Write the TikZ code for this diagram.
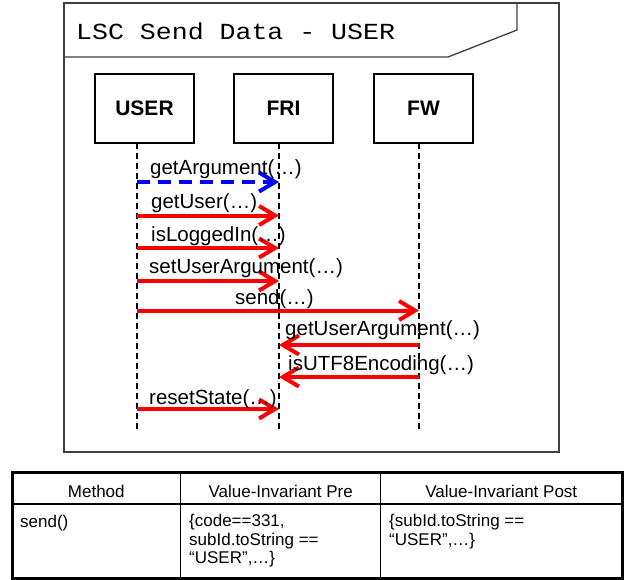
\documentclass[tikz,border=0pt]{standalone}
\usepackage{fontspec}
\setmainfont{Liberation Sans}
\newfontfamily\titlefont{Liberation Mono}
\usetikzlibrary{arrows.meta}
\begin{document}
\begin{tikzpicture}[x=1pt,y=-1pt,
  frameline/.style={draw=black!75,line width=1.3pt},
  lbox/.style={draw=black,line width=1.1pt,minimum width=99pt,minimum height=69pt,inner sep=0pt,
     font=\fontsize{21}{24}\selectfont\bfseries},
  lifeline/.style={draw=black,line width=2pt,dash pattern=on 6pt off 4pt},
  msgtxt/.style={anchor=base west,inner sep=0pt,font=\fontsize{20.5}{24}\selectfont},
  msg/.style={draw=red,line width=4pt,-{Straight Barb[length=16pt,width=19pt]}},
  msgb/.style={draw=blue,line width=4pt,dash pattern=on 13pt off 8pt,-{Straight Barb[length=16pt,width=19pt]}},
  tabtxt/.style={inner sep=0pt,font=\fontsize{17}{18.5}\selectfont},
]
\useasboundingbox (0,0) rectangle (626,579);
% frame
\draw[frameline] (64,3) rectangle (559,452);
\draw[frameline] (64,57) -- (448,57) -- (517,30) -- (517,3);
\node[anchor=base west,inner sep=0pt] (title) at (76,39.5)
  {\titlefont\fontsize{23}{26}\selectfont\scalebox{1.155}[1]{LSC Send Data - USER}};
% lifeline heads
\node[lbox] (USER) at (144.5,108.5) {USER};
\node[lbox] (FRI) at (283.5,108.5) {FRI};
\node[lbox] (FW) at (423.5,108.5) {FW};
\coordinate (uT) at (137,143); \coordinate (uB) at (137,432);
\coordinate (fT) at (279,143); \coordinate (fB) at (279,432);
\coordinate (wT) at (419,143); \coordinate (wB) at (419,432);
\draw[lifeline] (uT) -- (uB);
\draw[lifeline] (fT) -- (fB);
\draw[lifeline] (wT) -- (wB);
% messages
\draw[msgb] (uT |- 0,182) -- (fT |- 0,182);
\node[msgtxt] (l1) at (150,174) {getArgument(…)};
\draw[msg] (uT |- 0,215.5) -- (fT |- 0,215.5);
\node[msgtxt] (l2) at (151,208) {getUser(…)};
\draw[msg] (uT |- 0,248) -- (fT |- 0,248);
\node[msgtxt] (l3) at (151,241) {isLoggedIn(…)};
\draw[msg] (uT |- 0,281) -- (fT |- 0,281);
\node[msgtxt] (l4) at (149,273.5) {setUserArgument(…)};
\draw[msg] (uT |- 0,310.5) -- (wT |- 0,310.5);
\node[msgtxt] (l5) at (235,304.5) {send(…)};
\draw[msg] (wT |- 0,345) -- (fT |- 0,345);
\node[msgtxt] (l6) at (285,335) {getUserArgument(…)};
\draw[msg] (wT |- 0,377) -- (fT |- 0,377);
\node[msgtxt] (l7) at (288,370) {isUTF8Encoding(…)};
\draw[msg] (uT |- 0,409) -- (fT |- 0,409);
\node[msgtxt] (l8) at (149,404) {resetState(…)};
% table
\draw[black,line width=1.3pt] (12,504) -- (622,504);
\draw[black,line width=1.3pt] (180.7,472) -- (180.7,579);
\draw[black,line width=1.3pt] (380.7,472) -- (380.7,579);
\draw[black,line width=3pt] (12,472) rectangle (622,578);
\node[tabtxt,anchor=base] (h1) at (96.3,497) {Method};
\node[tabtxt,anchor=base] (h2) at (280.7,497) {Value-Invariant Pre};
\node[tabtxt,anchor=base] (h3) at (501.3,497) {Value-Invariant Post};
\node[tabtxt,anchor=base west] (c1) at (20,527) {send()};
\node[tabtxt,anchor=north west,align=left] (c2) at (189,514)
  {\{code==331,\\subId.toString ==\\“USER",…\}};
\node[tabtxt,anchor=north west,align=left] (c3) at (389,514)
  {\{subId.toString ==\\“USER",…\}};
\end{tikzpicture}
\end{document}
